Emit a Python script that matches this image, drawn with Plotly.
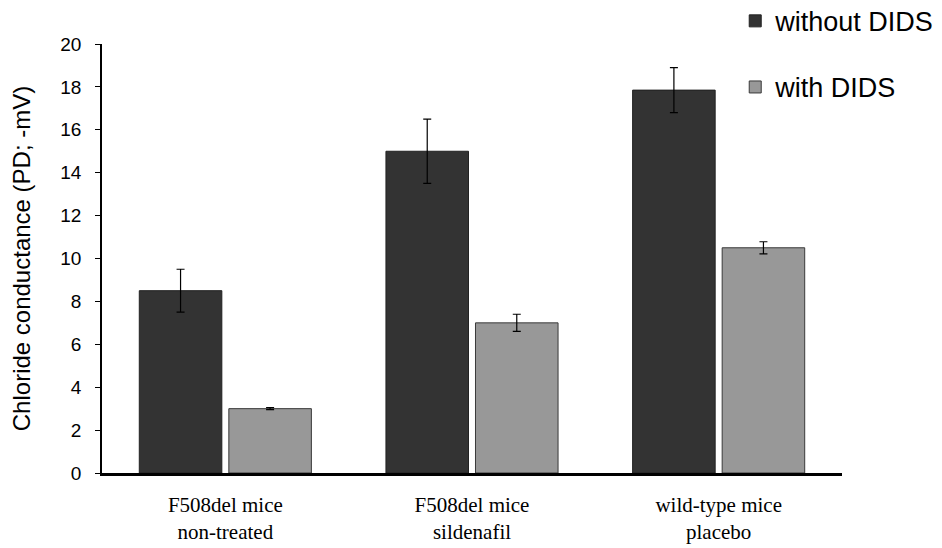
import plotly.graph_objects as go

categories = ["F508del mice<br>non-treated", "F508del mice<br>sildenafil", "wild-type mice<br>placebo"]
without_dids = [8.5, 15.0, 17.85]
without_err = [1.0, 1.5, 1.05]
with_dids = [3.0, 7.0, 10.5]
with_err = [0.05, 0.4, 0.28]
y_ticks = [0, 2, 4, 6, 8, 10, 12, 14, 16, 18, 20]

fig = go.Figure()
fig.add_trace(go.Bar(
    x=categories, y=without_dids, name="without DIDS", legendgroup="a",
    marker=dict(color="#333333", line=dict(color="#222222", width=1)),
    error_y=dict(type="data", array=without_err, color="black", thickness=1.2, width=4),
))
fig.add_trace(go.Bar(
    x=categories, y=with_dids, name="with DIDS", legendgroup="b",
    marker=dict(color="#bcbcbc", line=dict(color="#3a3a3a", width=1),
                pattern=dict(shape=".", size=2, solidity=0.45, fgcolor="#4a4a4a", bgcolor="#cccccc", fillmode="replace")),
    error_y=dict(type="data", array=with_err, color="black", thickness=1.2, width=4),
))

fig.update_layout(
    width=942, height=548,
    margin=dict(l=94, r=108, t=36, b=83, autoexpand=False),
    paper_bgcolor="white", plot_bgcolor="white",
    barmode="group", bargap=0.274, bargroupgap=0.078,
    font=dict(family="Liberation Sans, Arial", size=18, color="black"),
    legend=dict(x=0.772, xref="container", xanchor="left", y=1.11, yref="paper", yanchor="top",
                tracegroupgap=28, font=dict(size=27, family="Liberation Sans, Arial"),
                bgcolor="rgba(0,0,0,0)", itemwidth=30),
    showlegend=True,
)
fig.update_xaxes(
    showline=True, linecolor="black", linewidth=2.5, ticks="", showgrid=False,
    tickfont=dict(family="Liberation Serif, Times New Roman", size=21, color="black"),
    ticklabelstandoff=11,
)
fig.update_yaxes(
    range=[0, 20], tickvals=y_ticks, showline=True, linecolor="black", linewidth=1.5,
    ticks="outside", ticklen=5, tickcolor="black", tickwidth=1, showgrid=False, zeroline=False,
    tickfont=dict(size=19), ticklabelstandoff=10,
    title=dict(text="Chloride conductance (PD; -mV)", font=dict(size=24), standoff=33),
)
fig.write_html("out.html")
